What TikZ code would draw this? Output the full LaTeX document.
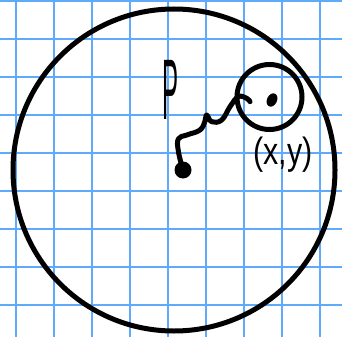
\documentclass[tikz,border=0pt]{standalone}
\usepackage{fontspec}
\setmainfont{Liberation Sans}
\usetikzlibrary{calc,shapes.geometric}
\definecolor{gridblue}{RGB}{95,170,250}

\tikzset{
  gridline/.style={color=gridblue, line width=1.4pt},
  ink/.style={color=black, line width=5pt, line cap=round, line join=round},
  blob/.style={circle, fill=black, inner sep=0pt, minimum size=17pt},
}

\begin{document}
\begin{tikzpicture}[x=1pt,y=-1pt]
\useasboundingbox (0,0) rectangle (342,337);
\fill[white] (0,0) rectangle (342,337);

% grid paper
\foreach \gx in {16,54,...,320} { \draw[gridline] (\gx,0) -- (\gx,337); }
\foreach \gy in {1,39,...,305} { \draw[gridline] (0,\gy) -- (342,\gy); }

\coordinate (O) at (174,170);
\draw[ink] (O) circle (161pt);

\node[draw, circle, line width=5pt, minimum size=65pt, inner sep=0pt] (head) at (269.5,97) {};
\node[fill=black, ellipse, inner sep=0pt, minimum width=10pt, minimum height=14pt, rotate=-25] (eye) at (272,100) {};
\node[blob] (pt) at (183,170) {};

   \draw[ink] plot[smooth, tension=0.7] coordinates {(pt.center) (178.5,152) (178.3,139) (186.7,135) (200,130) (205,121) (206.7,115) (211.7,121.7) (221.7,120) (230,106.7) (238.3,96.7) (246.7,98.3) (250,101.7)};

   \node[font=\fontsize{40}{40}\selectfont, xscale=0.6, yscale=2.15, transform shape] (plabel) at (171,90) {P};
   \node[font=\fontsize{38}{38}\selectfont, xscale=0.8, transform shape] (xy) at (283,155) {(x,y)};
\end{tikzpicture}
\end{document}
